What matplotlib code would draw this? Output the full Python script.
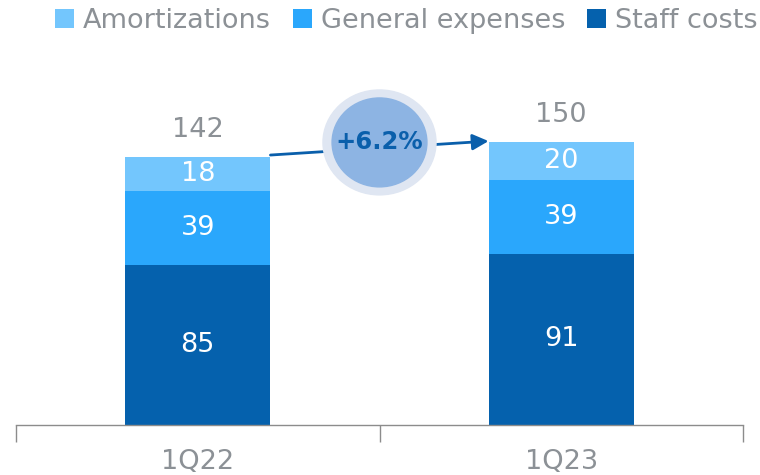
import numpy as np
import matplotlib.pyplot as plt
from matplotlib.patches import Ellipse

# --- Data ---
quarters     = ["1Q22", "1Q23"]
staff_costs  = [85, 91]
general_exp  = [39, 39]
amortization = [18, 20]
totals       = [142, 150]
growth_label = "+6.2%"

# --- Style ---
C_STAFF = "#0561ad"
C_GEN   = "#2aa7fc"
C_AMORT = "#73c6fd"
C_TEXT  = "#8c9196"
C_ARROW = "#0a5fab"
FS      = 19.5

plt.rcParams["font.family"] = "DejaVu Sans"

fig = plt.figure(figsize=(7.6, 4.75), dpi=100)
ax = fig.add_axes([16 / 760, 1 - 425 / 475, 727 / 760, 425 / 475])

x = np.arange(len(quarters))
w = 0.4
staff = np.array(staff_costs)
gen = np.array(general_exp)
amort = np.array(amortization)

ax.bar(x, staff, w, color=C_STAFF, label="Staff costs", zorder=2)
ax.bar(x, gen, w, bottom=staff, color=C_GEN, label="General expenses", zorder=2)
ax.bar(x, amort, w, bottom=staff + gen, color=C_AMORT, label="Amortizations", zorder=2)

# segment labels
for i in range(len(x)):
    ax.text(x[i], staff[i] / 2, f"{staff[i]}", ha="center", va="center",
            color="white", fontsize=FS)
    ax.text(x[i], staff[i] + gen[i] / 2, f"{gen[i]}", ha="center", va="center",
            color="white", fontsize=FS)
    ax.text(x[i], staff[i] + gen[i] + amort[i] / 2, f"{amort[i]}", ha="center",
            va="center", color="white", fontsize=FS)
    ax.text(x[i], totals[i] + 14.5, f"{totals[i]}", ha="center", va="center",
            color=C_TEXT, fontsize=FS)

# growth arrow + bubble
ax.annotate("", xy=(x[1] - w / 2, totals[1] + 0.7), xytext=(x[0] + w / 2, totals[0] + 1.3),
            arrowprops=dict(arrowstyle="-|>", color=C_ARROW, lw=2.0,
                            mutation_scale=24, shrinkA=0, shrinkB=0), zorder=3)
ax.add_patch(Ellipse((0.5, 150), 0.311, 55.7, color="#dfe6f2", zorder=4))
ax.add_patch(Ellipse((0.5, 150), 0.261, 47.2, color="#8db4e3", zorder=5))
ax.text(0.5, 150, growth_label, ha="center", va="center", color=C_ARROW,
        fontsize=17.5, fontweight="bold", zorder=6)

# --- Axes ---
ax.set_xlim(-0.5, 1.5)
ax.set_ylim(0, 225.6)
ax.set_yticks([])
for s in ["top", "right", "left"]:
    ax.spines[s].set_visible(False)
ax.spines["bottom"].set_color("#8c8c8c")
ax.spines["bottom"].set_linewidth(1.0)
ax.set_xticks([-0.5, 0.5, 1.5])
ax.set_xticklabels([])
ax.tick_params(axis="x", length=12, color="#8c8c8c", width=1.0)
for i, q in enumerate(quarters):
    ax.text(x[i], -19.8, q, ha="center", va="center", color=C_TEXT, fontsize=FS,
            clip_on=False)

# --- Legend ---
handles, labels = ax.get_legend_handles_labels()
fig.legend(handles[::-1], labels[::-1], loc="center right",
           bbox_to_anchor=(758 / 760, 1 - 21 / 475),
           ncol=3, frameon=False, fontsize=FS, labelcolor=C_TEXT,
           handlelength=0.69, handleheight=0.69, handletextpad=0.35,
           columnspacing=0.8, borderpad=0, borderaxespad=0)

fig.savefig("out.png", dpi=100)
